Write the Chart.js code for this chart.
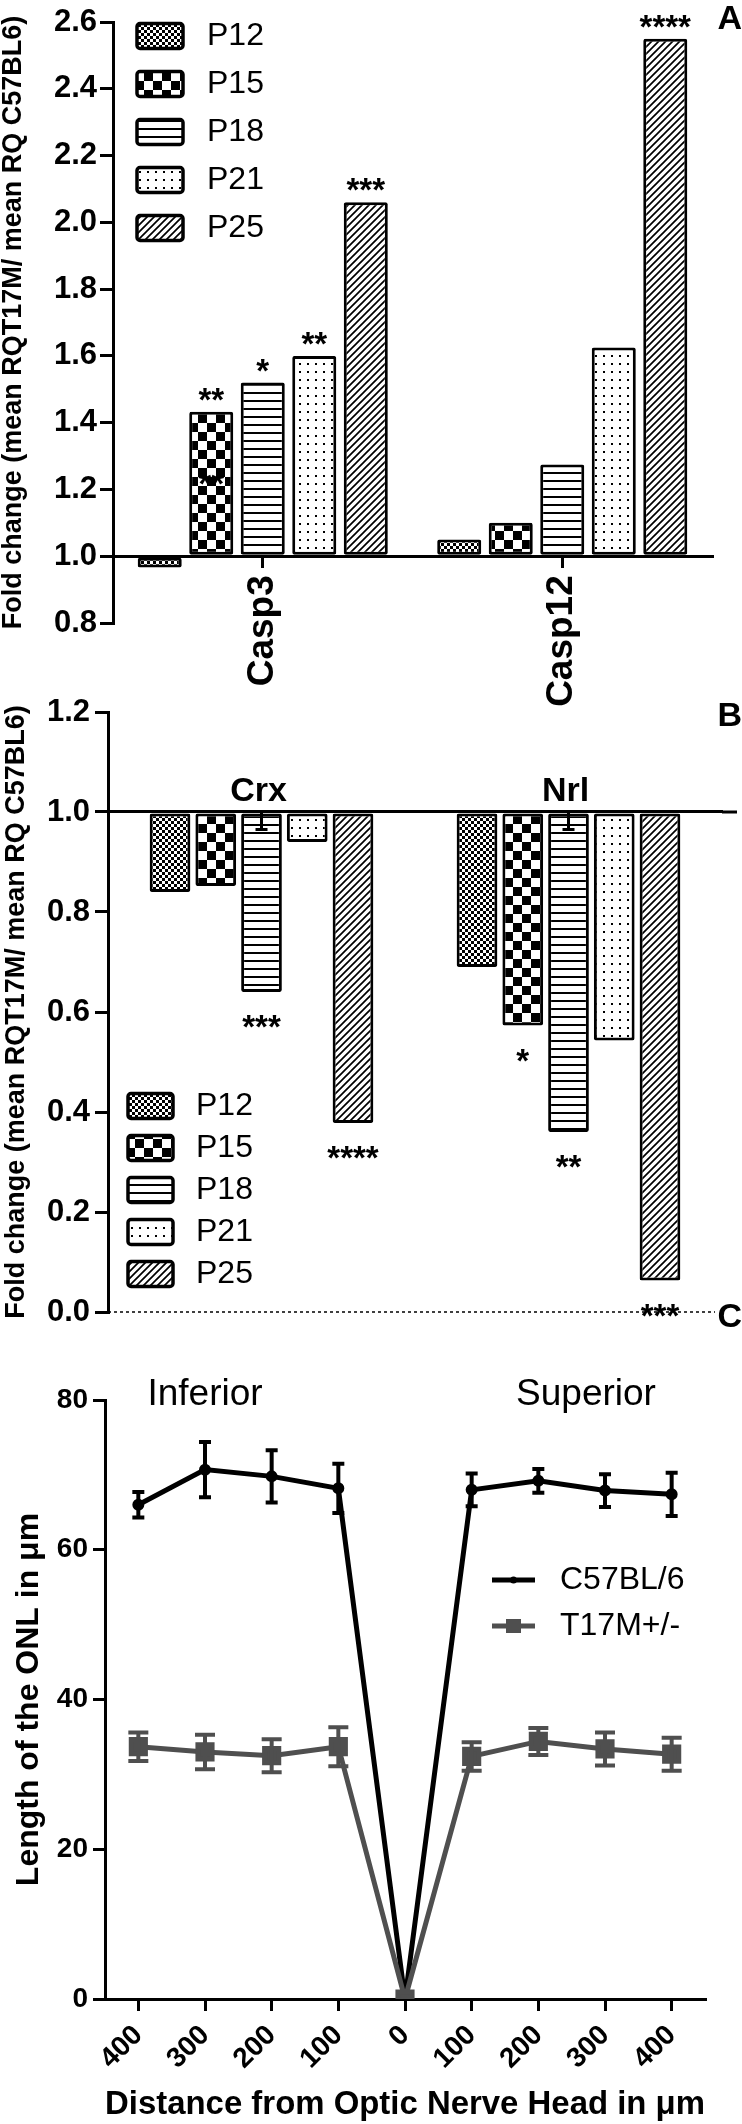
<!DOCTYPE html>
<html>
<head>
<meta charset="utf-8">
<title>Fold change and ONL length</title>
<script src="https://cdn.jsdelivr.net/npm/chart.js@4.4.0/dist/chart.umd.min.js"></script>
<style>
  html, body { margin: 0; padding: 0; background: #fff; }
  body { position: relative; width: 742px; height: 2124px; overflow: hidden; }
  .panel { position: absolute; left: 0; width: 742px; }
</style>
</head>
<body>
<div class="panel" style="top:0;height:760px"><canvas id="chartA"></canvas></div>
<div class="panel" style="top:680px;height:660px"><canvas id="chartB"></canvas></div>
<div class="panel" style="top:1370px;height:754px"><canvas id="chartC"></canvas></div>
<script>
const FONT = "'Liberation Sans', Arial, Helvetica, sans-serif";
Chart.defaults.font.family = FONT;
Chart.defaults.color = '#000';

// ---- data ----
const ages = ['P12', 'P15', 'P18', 'P21', 'P25'];

// panel A
const genesA = ['Casp3', 'Casp12'];
const casp3Fold = [0.966, 1.433, 1.52, 1.60, 2.06];
const casp12Fold = [1.05, 1.10, 1.275, 1.625, 2.55];
const casp3Sig = ['', '**', '*', '**', '***'];
const casp12Sig = ['', '', '', '', '****'];
const innerMarksA = [{ age: 'P15', gene: 'Casp3', value: 1.24, text: '**' }];
const yTicksA = [0.8, 1.0, 1.2, 1.4, 1.6, 1.8, 2.0, 2.2, 2.4, 2.6];

// panel B
const genesB = ['Crx', 'Nrl'];
const crxFold = [0.84, 0.852, 0.64, 0.94, 0.378];
const nrlFold = [0.69, 0.573, 0.36, 0.543, 0.063];
const crxErr = [0, 0, 0.035, 0, 0];
const nrlErr = [0, 0, 0.035, 0, 0];
const crxSig = ['', '', '***', '', '****'];
const nrlSig = ['', '*', '**', '', '***'];
const yTicksB = [0, 0.2, 0.4, 0.6, 0.8, 1.0, 1.2];

// panel C
const distances = ['400', '300', '200', '100', '0', '100', '200', '300', '400'];
const wtOnl = [66.0, 70.7, 69.8, 68.2, 0, 68.0, 69.2, 67.9, 67.4];
const wtErr = [1.7, 3.7, 3.5, 3.3, 0, 2.2, 1.6, 2.2, 2.9];
const mutOnl = [33.7, 33.0, 32.5, 33.7, 0, 32.4, 34.4, 33.4, 32.7];
const mutErr = [1.9, 2.3, 2.2, 2.6, 0, 1.9, 1.8, 2.2, 2.2];
const yTicksC = [0, 20, 40, 60, 80];

// fill patterns, one per age
function pattern(kind) {
    const c = document.createElement('canvas');
    const g = c.getContext('2d');
    const s = { fine: 6, checker: 18, hlines: 8, dots: 8, diag: 7 }[kind];
    c.width = c.height = s;
    g.fillStyle = '#fff';
    g.fillRect(0, 0, s, s);
    g.fillStyle = '#000';
    g.strokeStyle = '#000';
    if (kind === 'fine' || kind === 'checker') {
        const h = s / 2;
        g.fillRect(0, 0, h, h);
        g.fillRect(h, h, h, h);
    } else if (kind === 'hlines') {
        g.fillRect(0, 0, s, 2);
    } else if (kind === 'dots') {
        g.fillRect(3, 3, 2, 2);
    } else {
        g.lineWidth = 1.7;
        g.beginPath();
        g.moveTo(-1, s + 1); g.lineTo(s + 1, -1);
        g.moveTo(-1, 1); g.lineTo(1, -1);
        g.moveTo(s - 1, s + 1); g.lineTo(s + 1, s - 1);
        g.stroke();
    }
    return g.createPattern(c, 'repeat');
}
const fills = ['fine', 'checker', 'hlines', 'dots', 'diag'].map(pattern);

function barSets(first, second, sigFirst, sigSecond, errFirst, errSecond) {
    return ages.map((age, k) => ({
        label: age,
        data: [first[k], second[k]],
        sig: [sigFirst[k], sigSecond[k]],
        err: [errFirst ? errFirst[k] : 0, errSecond ? errSecond[k] : 0],
        base: 1.0,
        backgroundColor: fills[k],
        borderColor: '#000',
        borderWidth: 3,
        borderSkipped: false,
        borderRadius: 2
    }));
}

function text(ctx, str, x, y, font, align, baseline) {
    ctx.font = font;
    ctx.textAlign = align || 'center';
    ctx.textBaseline = baseline || 'alphabetic';
    ctx.fillStyle = '#000';
    ctx.fillText(str, x, y);
}

// significance stars above / below the bars
const starPlugin = {
    id: 'stars',
    afterDatasetsDraw(chart, args, opts) {
        const ctx = chart.ctx;
        ctx.save();
        chart.data.datasets.forEach((ds, di) => {
            chart.getDatasetMeta(di).data.forEach((bar, i) => {
                const s = ds.sig[i];
                if (!s) return;
                const mid = opts.below
                    ? Math.max(bar.y, bar.base) + opts.gap
                    : Math.min(bar.y, bar.base) - opts.gap;
                text(ctx, s, bar.x, mid + 19, 'bold 33px ' + FONT);
            });
        });
        ctx.restore();
    }
};

// legend with patterned boxes
const boxLegend = {
    id: 'boxLegend',
    afterDraw(chart, args, o) {
        const ctx = chart.ctx;
        ctx.save();
        chart.data.datasets.forEach((ds, k) => {
            const cy = o.top + k * o.step;
            ctx.beginPath();
            if (ctx.roundRect) ctx.roundRect(o.x, cy - o.h / 2, o.w, o.h, 3);
            else ctx.rect(o.x, cy - o.h / 2, o.w, o.h);
            ctx.fillStyle = ds.backgroundColor;
            ctx.fill();
            ctx.lineWidth = 3.5;
            ctx.strokeStyle = '#000';
            ctx.stroke();
            text(ctx, ds.label, o.textX, cy, '32px ' + FONT, 'left', 'middle');
        });
        ctx.restore();
    }
};

const axisCommon = {
    grid: { drawOnChartArea: false, tickLength: 13, lineWidth: 3, color: '#000' },
    border: { width: 3, color: '#000' }
};

// ---- panel A ----
new Chart(document.getElementById('chartA'), {
    type: 'bar',
    data: { labels: genesA, datasets: barSets(casp3Fold, casp12Fold, casp3Sig, casp12Sig) },
    options: {
        responsive: true,
        maintainAspectRatio: false,
        animation: false,
        categoryPercentage: 0.86,
        barPercentage: 0.855,
        layout: { padding: { top: 22, bottom: 137, left: 0, right: 30 } },
        plugins: {
            legend: { display: false },
            tooltip: { enabled: false },
            stars: { gap: 20 },
            boxLegend: { x: 137, w: 46, h: 25, top: 36, step: 48, textX: 207 }
        },
        scales: {
            x: {
                position: { y: 1.0 },
                offset: true,
                grid: { drawOnChartArea: false, offset: false, tickLength: 10, lineWidth: 3, color: '#000' },
                border: { width: 3, color: '#000' },
                ticks: { minRotation: 90, maxRotation: 90, padding: 9, font: { size: 37, weight: 'bold' } }
            },
            y: {
                ...axisCommon,
                min: 0.8,
                max: 2.6,
                afterFit: s => { s.width = 113; },
                afterBuildTicks: s => { s.ticks = yTicksA.map(v => ({ value: v })); },
                ticks: { padding: 3, font: { size: 31, weight: 'bold' }, callback: v => Number(v).toFixed(1) },
                title: {
                    display: true,
                    text: 'Fold change (mean RQT17M/ mean RQ C57BL6)',
                    font: { size: 27, weight: 'bold', lineHeight: 1 },
                    padding: { top: 0, bottom: 0 }
                }
            }
        }
    },
    plugins: [starPlugin, boxLegend, {
        id: 'notesA',
        afterDraw(chart) {
            const ctx = chart.ctx;
            const y = chart.scales.y;
            ctx.save();
            innerMarksA.forEach(m => {
                const bar = chart.getDatasetMeta(ages.indexOf(m.age)).data[genesA.indexOf(m.gene)];
                text(ctx, m.text, bar.x, y.getPixelForValue(m.value) + 19, 'bold 33px ' + FONT);
            });
            text(ctx, 'A', 742, 20, 'bold 34px ' + FONT, 'right', 'middle');
            ctx.restore();
        }
    }]
});

// ---- panel B ----
new Chart(document.getElementById('chartB'), {
    type: 'bar',
    data: { labels: genesB, datasets: barSets(crxFold, nrlFold, crxSig, nrlSig, crxErr, nrlErr) },
    options: {
        responsive: true,
        maintainAspectRatio: false,
        animation: false,
        categoryPercentage: 0.745,
        barPercentage: 0.89,
        layout: { padding: { top: 32, bottom: 28, left: 0, right: 20 } },
        plugins: {
            legend: { display: false },
            tooltip: { enabled: false },
            stars: { gap: 27, below: true },
            boxLegend: { x: 128, w: 45, h: 25, top: 426, step: 42, textX: 196 }
        },
        scales: {
            x: {
                position: { y: 1.0 },
                offset: true,
                grid: { display: false },
                border: { width: 3, color: '#000' },
                ticks: { display: false }
            },
            y: {
                ...axisCommon,
                min: 0,
                max: 1.2,
                afterFit: s => { s.width = 108; },
                afterBuildTicks: s => { s.ticks = yTicksB.map(v => ({ value: v })); },
                ticks: { padding: 5, font: { size: 31, weight: 'bold' }, callback: v => Number(v).toFixed(1) },
                title: {
                    display: true,
                    text: 'Fold change (mean RQT17M/ mean RQ C57BL6)',
                    font: { size: 27, weight: 'bold', lineHeight: 1 },
                    padding: { top: 3, bottom: 0 }
                }
            }
        }
    },
    plugins: [starPlugin, boxLegend, {
        id: 'notesB',
        afterDatasetsDraw(chart) {
            const ctx = chart.ctx;
            const x = chart.scales.x, y = chart.scales.y;
            const area = chart.chartArea;
            const one = y.getPixelForValue(1.0);
            ctx.save();
            // error bars on the bars
            ctx.strokeStyle = '#000';
            ctx.lineWidth = 3;
            chart.data.datasets.forEach((ds, di) => {
                chart.getDatasetMeta(di).data.forEach((bar, i) => {
                    if (!ds.err[i]) return;
                    const high = y.getPixelForValue(1.0 - ds.err[i]);
                    ctx.beginPath();
                    ctx.moveTo(bar.x, one);
                    ctx.lineTo(bar.x, high);
                    ctx.moveTo(bar.x - 6, high);
                    ctx.lineTo(bar.x + 6, high);
                    ctx.stroke();
                });
            });
            // baseline continues to the edge, dotted zero line
            ctx.beginPath();
            ctx.moveTo(area.right, one);
            ctx.lineTo(737, one);
            ctx.stroke();
            ctx.setLineDash([3, 3]);
            ctx.lineWidth = 1.5;
            ctx.beginPath();
            ctx.moveTo(area.left, y.getPixelForValue(0));
            ctx.lineTo(715, y.getPixelForValue(0));
            ctx.stroke();
            ctx.setLineDash([]);
            genesB.forEach((g, i) => {
                text(ctx, g, x.getPixelForValue(i) - 3, one - 11, 'bold 34px ' + FONT);
            });
            text(ctx, 'B', 742, 37, 'bold 34px ' + FONT, 'right', 'middle');
            text(ctx, 'C', 742, 638, 'bold 34px ' + FONT, 'right', 'middle');
            ctx.restore();
        }
    }]
});

// ---- panel C ----
new Chart(document.getElementById('chartC'), {
    type: 'line',
    data: {
        labels: distances,
        datasets: [
            {
                label: 'C57BL/6', data: wtOnl, errors: wtErr, capHalf: 6,
                borderColor: '#000', backgroundColor: '#000', borderWidth: 5,
                pointStyle: 'circle', pointRadius: 3.5, tension: 0, order: 1
            },
            {
                label: 'T17M+/-', data: mutOnl, errors: mutErr, capHalf: 10,
                borderColor: '#4f4f4f', backgroundColor: '#4f4f4f', borderWidth: 5,
                pointStyle: 'rect', pointRadius: 10, tension: 0, order: 0
            }
        ]
    },
    options: {
        responsive: true,
        maintainAspectRatio: false,
        animation: false,
        layout: { padding: { top: 30, bottom: 0, left: 0, right: 37 } },
        plugins: { legend: { display: false }, tooltip: { enabled: false } },
        scales: {
            x: {
                offset: true,
                afterFit: s => { s.height = 125; },
                grid: { drawOnChartArea: false, offset: false, tickLength: 12, lineWidth: 3, color: '#000' },
                border: { width: 3, color: '#000' },
                ticks: { minRotation: 45, maxRotation: 45, autoSkip: false, padding: 8, font: { size: 28, weight: 'bold' } },
                title: {
                    display: true,
                    text: 'Distance from Optic Nerve Head in \u03bcm',
                    font: { size: 33, weight: 'bold', lineHeight: 1 },
                    padding: { top: 0, bottom: 3 }
                }
            },
            y: {
                ...axisCommon,
                min: 0,
                max: 80,
                afterFit: s => { s.width = 105; },
                afterBuildTicks: s => { s.ticks = yTicksC.map(v => ({ value: v })); },
                grid: { drawOnChartArea: false, tickLength: 12, lineWidth: 3, color: '#000' },
                ticks: { padding: 5, font: { size: 28, weight: 'bold' } },
                title: {
                    display: true,
                    text: 'Length of the ONL in \u03bcm',
                    font: { size: 32, weight: 'bold', lineHeight: 1 },
                    padding: { top: 13, bottom: 0 }
                }
            }
        }
    },
    plugins: [{
        id: 'notesC',
        afterDatasetsDraw(chart) {
            const ctx = chart.ctx;
            const y = chart.scales.y;
            ctx.save();
            // error bars
            chart.data.datasets.forEach((ds, di) => {
                ctx.strokeStyle = ds.borderColor;
                ctx.lineWidth = 4;
                chart.getDatasetMeta(di).data.forEach((pt, i) => {
                    const e = ds.errors[i];
                    if (!e) return;
                    const hi = y.getPixelForValue(ds.data[i] + e);
                    const lo = y.getPixelForValue(ds.data[i] - e);
                    const w = ds.capHalf;
                    ctx.beginPath();
                    ctx.moveTo(pt.x, hi); ctx.lineTo(pt.x, lo);
                    ctx.moveTo(pt.x - w, hi); ctx.lineTo(pt.x + w, hi);
                    ctx.moveTo(pt.x - w, lo); ctx.lineTo(pt.x + w, lo);
                    ctx.stroke();
                });
            });
            // legend
            chart.data.datasets.forEach((ds, k) => {
                const cy = 210 + k * 46;
                ctx.strokeStyle = ds.borderColor;
                ctx.fillStyle = ds.borderColor;
                ctx.lineWidth = 5;
                ctx.beginPath();
                ctx.moveTo(492, cy);
                ctx.lineTo(535, cy);
                ctx.stroke();
                ctx.beginPath();
                if (ds.pointStyle === 'rect') ctx.rect(506, cy - 7, 15, 14);
                else ctx.arc(513.5, cy, 3.5, 0, Math.PI * 2);
                ctx.fill();
                text(ctx, ds.label, 560, cy, '32px ' + FONT, 'left', 'middle');
            });
            text(ctx, 'Inferior', chart.scales.x.getPixelForValue(1), 25, '37px ' + FONT, 'center', 'middle');
            text(ctx, 'Superior', 586, 25, '37px ' + FONT, 'center', 'middle');
            ctx.restore();
        }
    }]
});
</script>
</body>
</html>
